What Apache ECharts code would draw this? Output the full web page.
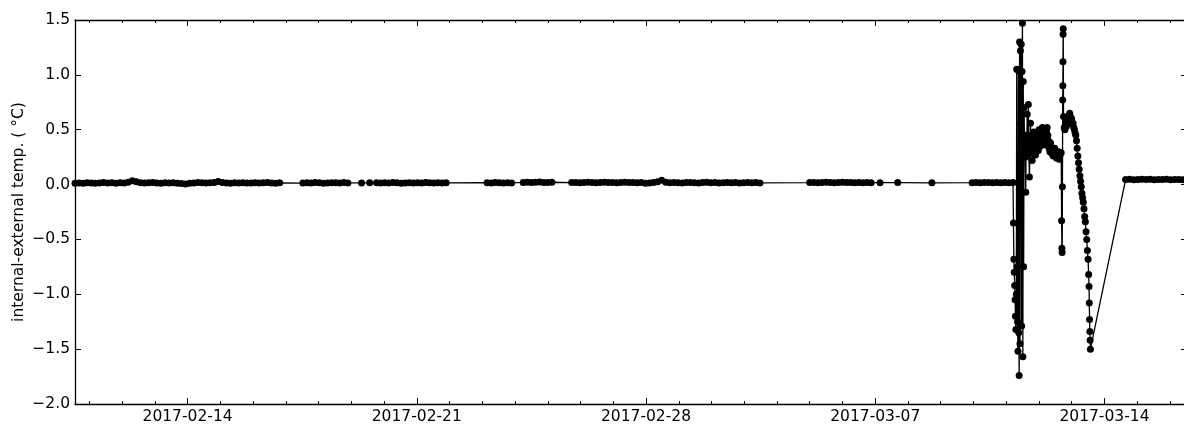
<!DOCTYPE html>
<html><head><meta charset="utf-8">
<script src="https://cdn.jsdelivr.net/npm/echarts@6/dist/echarts.min.js"></script>
<style>html,body{margin:0;padding:0;background:#fff}#c{width:1184px;height:426px}</style>
</head><body><div id="c"></div>
<script>
// ---- regularly sampled quiet segments (UTC start, step in hours, values) ----
const segStarts = ['2017-02-10T13:30','2017-02-15T22:30','2017-02-17T12:30','2017-02-19T18:30','2017-02-23T03:30','2017-02-24T06:00','2017-02-25T17:30','2017-03-05T00:00','2017-03-09T23:00','2017-03-14T15:30'];
const segStepHours = [3,3,3,3,3,3,3,3,3,3];
const segA = [0.012,0.015,0.013,0.016,0.014,0.012,0.015,0.018,0.014,0.016,0.013,0.017,0.015,0.022,0.035,0.025,0.017,0.014,0.016,0.019,0.015,0.013,0.017,0.014,0.016,0.012,0.010,0.005,0.012,0.015,0.018,0.016,0.014,0.017,0.020,0.028,0.018,0.015,0.013,0.016,0.014,0.017,0.015];
const segB = [0.015,0.017,0.014,0.016,0.018,0.015,0.013,0.016];
const segC = [0.014,0.016,0.015,0.018,0.016,0.013,0.015,0.017,0.016,0.014,0.019,0.015];
const segE = [0.016,0.014,0.017,0.015,0.018,0.016,0.013,0.015,0.017,0.014,0.016,0.015,0.018,0.016,0.014,0.017,0.015,0.016];
const segF = [0.017,0.015,0.018,0.016,0.014,0.017,0.015];
const segG = [0.020,0.022,0.019,0.021,0.023,0.020,0.018,0.021];
const segH = [0.018,0.020,0.017,0.019,0.021,0.018,0.016,0.019,0.022,0.018,0.020,0.017,0.019,0.021,0.018,0.020,0.016,0.019,0.012,0.015,0.018,0.025,0.040,0.022,0.017,0.019,0.016,0.014,0.018,0.020,0.017,0.015,0.019,0.021,0.016,0.018,0.014,0.017,0.019,0.016,0.018,0.015,0.017,0.019,0.016,0.018,0.015];
const segI = [0.018,0.020,0.017,0.019,0.022,0.018,0.016,0.019,0.021,0.018,0.020,0.017,0.019,0.016,0.018,0.017];
const segK = [0.017,0.019,0.016,0.018,0.020,0.017,0.019,0.016,0.018,0.017,0.018];
const segEnd = [0.046,0.048,0.045,0.047,0.049,0.046,0.048,0.045,0.047,0.046,0.048,0.045,0.047,0.046,0.045,0.047];
const segValues = [segA,segB,segC,segE,segF,segG,segH,segI,segK,segEnd];

// ---- isolated readings ----
const isolatedTimes = ['2017-02-19T07:30','2017-02-19T13:30','2017-03-07T03:30','2017-03-07T16:30','2017-03-08T17:30'];
const isolatedValues = [0.015,0.016,0.017,0.018,0.016];

// ---- disturbed period: [hours after 2017-03-11 00:00 UTC, value] ----
const burstOrigin = '2017-03-11T00:00';
const burstReadings = [
  [5.3,-0.35],[5.6,-0.68],[5.9,-0.80],[6.2,-0.92],[6.5,-1.05],[6.8,-1.20],[7.1,-1.32],[7.4,-1.00],[7.7,1.05],[8.0,-0.75],
  [8.3,-1.25],[8.6,-1.52],[8.9,1.04],[9.2,-1.35],[9.5,-1.74],[9.8,1.30],[10.1,-1.45],[10.4,1.22],[10.7,0.55],[11.0,1.28],
  [11.3,-1.29],[11.6,1.03],[11.9,1.47],[12.2,-1.57],[12.5,0.94],[12.8,-0.75],[13.1,0.70],[13.4,0.35],[13.7,0.45],[14.0,0.25],
  [14.3,-0.07],[14.6,0.38],[15.0,0.30],[15.4,0.64],[15.8,0.42],[16.2,0.73],[16.6,0.28],[17.0,0.07],[17.4,0.35],[17.8,0.56],
  [18.2,0.30],[18.6,0.45],[19.0,0.22],[19.5,0.38],[20.0,0.48],[20.5,0.33],[21.0,0.42],[21.5,0.27],[22.0,0.36],[22.5,0.46],
  [23.0,0.39],[23.5,0.31],[24.0,0.50],[24.5,0.42],[25.0,0.35],[25.5,0.47],[26.0,0.44],[26.5,0.52],[27.0,0.38],[27.5,0.46],
  [28.0,0.51],[28.5,0.43],[29.0,0.36],[29.5,0.49],[30.0,0.52],[30.5,0.45],[31.0,0.40],[31.5,0.33],[32.0,0.30],[32.5,0.38],
  [33.0,0.34],[33.5,0.28],[34.0,0.31],[34.5,0.26],[35.0,0.29],[35.5,0.33],[36.0,0.30],[36.5,0.27],[37.0,0.24],[37.5,0.28],
  [38.0,0.25],[38.5,0.30],[39.0,0.23],[39.5,0.27],[40.3,0.29],[40.6,-0.33],[40.8,-0.58],[41.0,-0.62],[41.2,-0.02],[41.4,0.77],
  [41.5,0.90],[41.6,1.12],[41.7,1.37],[41.8,1.42],[42.0,0.62],[42.5,0.52],[43.0,0.50],[43.5,0.58],[44.0,0.53],[44.5,0.60],
  [45.0,0.56],[45.5,0.62],[46.0,0.60],[46.5,0.65],[47.0,0.62],[47.5,0.58],[48.0,0.60],[48.5,0.55],[49.0,0.56],[49.5,0.52],
  [50.0,0.50],[50.5,0.47],[51.0,0.45],[51.5,0.40],[52.0,0.33],[52.5,0.26],[53.0,0.20],[53.5,0.14],[54.0,0.08],[54.5,0.03],
  [55.0,-0.02],[55.5,-0.08],[56.0,-0.12],[56.5,-0.16],[57.0,-0.22],[57.5,-0.29],[58.0,-0.34],[58.5,-0.43],[59.0,-0.50],[59.5,-0.60],
  [60.0,-0.68],[60.4,-0.82],[60.7,-0.93],[60.9,-1.08],[61.1,-1.23],[61.3,-1.34],[61.5,-1.42],[61.7,-1.50]
];

// ---- axis labels ----
const xTickLabels = ['2017-02-14','2017-02-21','2017-02-28','2017-03-07','2017-03-14'];
const yAxisTitle = 'internal-external temp. ( °C)';

const HOUR = 3600000, DAY = 86400000;
const ts = s => Date.parse(s + ':00Z');

const points = [];
segStarts.forEach((s, i) => {
  const t0 = ts(s);
  segValues[i].forEach((v, k) => points.push([t0 + k * segStepHours[i] * HOUR, v]));
});
isolatedTimes.forEach((s, i) => points.push([ts(s), isolatedValues[i]]));
const bo = ts(burstOrigin);
burstReadings.forEach(([h, v]) => points.push([bo + h * HOUR, v]));
points.sort((a, b) => a[0] - b[0]);

const xMin = points[0][0], xMax = points[points.length - 1][0];
const majorTicks = xTickLabels.map(s => Date.parse(s + 'T00:00:00Z'));
const minorTicks = [];
for (let t = Math.ceil(xMin / DAY) * DAY; t <= xMax; t += DAY) minorTicks.push(t);

const FONT = 'DejaVu Sans';
const FS = 15.5;
const gridRect = {left: 75, right: -3, top: 20, bottom: 22, outerBoundsMode: 'none'};

function xAx(gridIndex, position, ticks, len, showLine, labels) {
  return {
    type: 'value', gridIndex, position, min: xMin, max: xMax,
    axisLine: {show: showLine, onZero: false, lineStyle: {color: '#000', width: 1.3}},
    axisTick: {show: true, inside: true, length: len, customValues: ticks, lineStyle: {color: '#000', width: 1}},
    axisLabel: labels ? {show: true, customValues: ticks, color: '#000', fontSize: FS, fontFamily: FONT, margin: 5,
      formatter: v => new Date(v).toISOString().slice(0, 10)} : {show: false},
    splitLine: {show: false}
  };
}

const chart = echarts.init(document.getElementById('c'), null, {renderer: 'canvas'});
chart.setOption({
  animation: false,
  backgroundColor: '#fff',
  grid: [Object.assign({}, gridRect), Object.assign({}, gridRect)],
  xAxis: [
    xAx(0, 'bottom', majorTicks, 6, true, true),
    xAx(0, 'top', majorTicks, 6, true, false),
    xAx(1, 'bottom', minorTicks, 3, false, false),
    xAx(1, 'top', minorTicks, 3, false, false)
  ],
  yAxis: [
    {type: 'value', gridIndex: 0, position: 'left', min: -2, max: 1.5, interval: 0.5,
     name: yAxisTitle, nameLocation: 'middle', nameRotate: 90, nameGap: 48, nameMoveOverlap: false,
     nameTextStyle: {color: '#000', fontSize: FS, fontFamily: FONT},
     axisLine: {show: true, onZero: false, lineStyle: {color: '#000', width: 1.3}},
     axisTick: {show: true, inside: true, length: 6, lineStyle: {color: '#000', width: 1}},
     axisLabel: {color: '#000', fontSize: FS, fontFamily: FONT, margin: 5,
       formatter: v => v.toFixed(1).replace('-', '\u2212')},
     splitLine: {show: false}},
    {type: 'value', gridIndex: 0, position: 'right', min: -2, max: 1.5, interval: 0.5,
     axisLine: {show: true, onZero: false, lineStyle: {color: '#000', width: 1.3}},
     axisTick: {show: true, inside: true, length: 6, lineStyle: {color: '#000', width: 1}},
     axisLabel: {show: false}, splitLine: {show: false}},
    {type: 'value', gridIndex: 1, min: -2, max: 1.5, show: false}
  ],
  series: [{
    type: 'line', xAxisIndex: 0, yAxisIndex: 0, data: points,
    symbol: 'circle', symbolSize: 7, showSymbol: true, showAllSymbol: true,
    lineStyle: {color: '#000', width: 1.3}, itemStyle: {color: '#000'},
    clip: true, silent: true, emphasis: {disabled: true}
  }]
});
</script></body></html>
